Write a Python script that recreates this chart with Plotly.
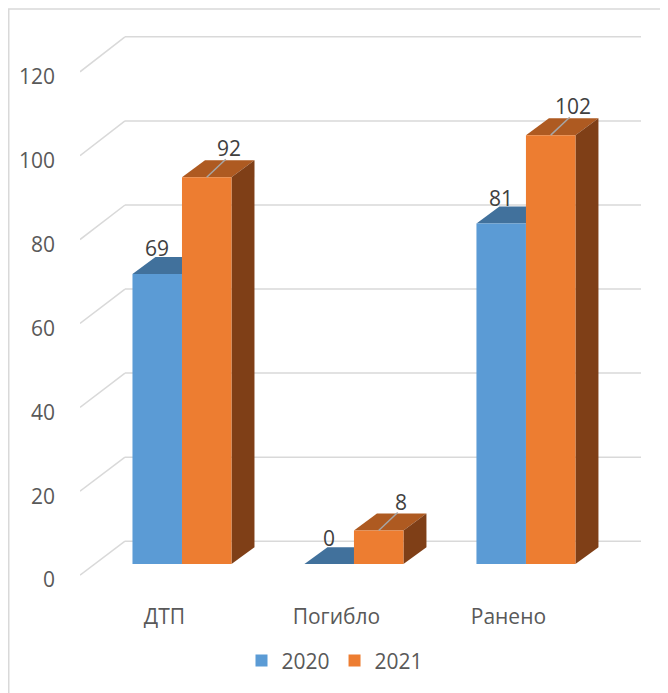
import plotly.graph_objects as go

# ---- data ----
categories = ["ДТП", "Погибло", "Ранено"]
series_names = ["2020", "2021"]
values_2020 = [69, 0, 81]
values_2021 = [92, 8, 102]
y_tick_values = [0, 20, 40, 60, 80, 100, 120]

# ---- layout constants (page body has an 8px margin) ----
W, H = 660, 685
L, R, T, B = 72, 27, 22, 93
x_range = [-0.593, 2.669]
y_range = [-8.06, 127.0]
px_x = (W - L - R) / (x_range[1] - x_range[0])
px_y = (H - T - B) / (y_range[1] - y_range[0])

bar_w = 49.5 / px_x
dx = 23 / px_x
dy = 17 / px_y

BLUE, BLUE_TOP = "#5b9bd5", "#41719c"
ORANGE, ORANGE_TOP, ORANGE_SIDE = "#ed7d31", "#ae5a21", "#7f3f17"
GRID = "#d9d9d9"
FONT = "Open Sans"
FS = 21

xpos = list(range(len(categories)))

fig = go.Figure()
fig.add_trace(go.Bar(x=xpos, y=values_2020, name=series_names[0], width=bar_w,
                     offset=-bar_w, marker=dict(color=BLUE, line=dict(width=0)),
                     hoverinfo="skip"))
fig.add_trace(go.Bar(x=xpos, y=values_2021, name=series_names[1], width=bar_w,
                     offset=0, marker=dict(color=ORANGE, line=dict(width=0)),
                     hoverinfo="skip"))

shapes = []
# chart border
shapes.append(dict(type="rect", xref="paper", yref="paper",
                   x0=(0.75 - L) / (W - L - R), x1=1.2,
                   y0=-0.4, y1=1 + (T - 1) / (H - T - B),
                   line=dict(color=GRID, width=1.5), layer="below"))

# back wall gridlines + floor-to-wall diagonals
back_x0 = x_range[0] + 45 / px_x
for v in y_tick_values:
    front_y = -2.607 + 0.9972 * v
    back_y = 5.45 + 0.9993 * v
    shapes.append(dict(type="line", xref="x", yref="y", x0=x_range[0], y0=front_y,
                       x1=back_x0, y1=back_y, line=dict(color=GRID, width=1.5),
                       layer="below"))
    shapes.append(dict(type="line", xref="x", yref="y", x0=back_x0, y0=back_y,
                       x1=x_range[1], y1=back_y, line=dict(color=GRID, width=1.5),
                       layer="below"))

def poly(pts):
    return "M " + " L ".join(f"{x},{y}" for x, y in pts) + " Z"

for i in xpos:
    v1 = values_2020[i]
    x0, x1 = i - bar_w, i
    shapes.append(dict(type="path", xref="x", yref="y", layer="below",
                       path=poly([(x0, v1), (x1, v1), (x1 + dx, v1 + dy), (x0 + dx, v1 + dy)]),
                       fillcolor=BLUE_TOP, line=dict(width=0)))
    v2 = values_2021[i]
    x0, x1 = i, i + bar_w
    shapes.append(dict(type="path", xref="x", yref="y", layer="below",
                       path=poly([(x0, v2), (x1, v2), (x1 + dx, v2 + dy), (x0 + dx, v2 + dy)]),
                       fillcolor=ORANGE_TOP, line=dict(width=0)))
    shapes.append(dict(type="path", xref="x", yref="y", layer="below",
                       path=poly([(x1, 0), (x1, v2), (x1 + dx, v2 + dy), (x1 + dx, dy)]),
                       fillcolor=ORANGE_SIDE, line=dict(width=0)))
    # leader line
    cx = i + bar_w / 2
    shapes.append(dict(type="line", xref="x", yref="y", x0=cx, y0=v2,
                       x1=cx + 19 / px_x, y1=v2 + 18 / px_y,
                       line=dict(color="#a6a6a6", width=1.5)))

annotations = []
for i in xpos:
    annotations.append(dict(x=i - bar_w / 2, y=values_2020[i] + 26 / px_y,
                            text=str(values_2020[i]), showarrow=False,
                            xanchor="center", yanchor="middle",
                            font=dict(family=FONT, size=FS, color="#404040")))
    annotations.append(dict(x=i + bar_w / 2 + 22 / px_x, y=values_2021[i] + 29 / px_y,
                            text=str(values_2021[i]), showarrow=False,
                            xanchor="center", yanchor="middle",
                            font=dict(family=FONT, size=FS, color="#404040")))

fig.update_layout(
    width=W, height=H,
    margin=dict(l=L, r=R, t=T, b=B),
    paper_bgcolor="white", plot_bgcolor="white",
    barmode="overlay",
    shapes=shapes, annotations=annotations,
    font=dict(family=FONT, size=FS, color="#595959"),
    showlegend=True,
    legend=dict(orientation="h", x=(327 - L) / (W - L - R), xanchor="center",
                y=(H - B - 655) / (H - T - B), yanchor="middle",
                font=dict(family=FONT, size=FS, color="#595959"),
                itemwidth=30, bgcolor="rgba(0,0,0,0)"),
    xaxis=dict(range=x_range, showgrid=False, zeroline=False, showline=False,
               tickmode="array", tickvals=[i - 0.102 for i in xpos], ticktext=categories,
               ticks="", ticklabelstandoff=4, fixedrange=True),
    yaxis=dict(range=y_range, showgrid=False, zeroline=False, showline=False,
               tickmode="array", tickvals=[-3.8 + 0.997 * v for v in y_tick_values],
               ticktext=[str(v) for v in y_tick_values],
               ticks="", ticklabelstandoff=24, fixedrange=True),
)

fig.write_html("out.html")
